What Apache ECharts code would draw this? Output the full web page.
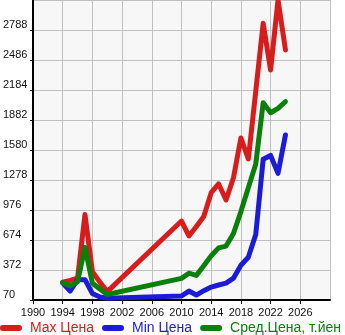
<!DOCTYPE html>
<html>
<head>
<meta charset="utf-8">
<script src="https://cdn.jsdelivr.net/npm/echarts@6/dist/echarts.min.js"></script>
<style>
html,body{margin:0;padding:0;background:#fff;}
#c{width:345px;height:335px;}
</style>
</head>
<body>
<div id="c"></div>
<script>
var years = [1994,1995,1996,1997,1998,1999,2000,2010,2011,2012,2013,2014,2015,2016,2017,2018,2019,2020,2021,2022,2023,2024];
var maxPrice = [250,268,290,930,355,250,154,865,715,810,910,1150,1238,1077,1300,1700,1490,2170,2855,2385,3090,2587];
var minPrice = [240,160,275,275,135,100,87,110,160,120,164,200,221,240,290,420,500,730,1486,1525,1345,1731];
var avgPrice = [245,212,254,600,238,180,125,288,340,318,415,515,595,613,740,960,1200,1440,2055,1955,2000,2066];
var seriesNames = ['Max Цена','Min Цена','Сред.Цена, т.йен'];
var seriesColors = ['#d81c1c','#1c1cd8','#0a800a'];
var yTickMin = 70, yTickStep = 302, yTickMax = 3090;
var xMin = 1990, xMax = 2030, xStep = 4;

function pairs(vals){ return years.map(function(y,i){ return [y, vals[i]]; }); }
var allVals = [maxPrice, minPrice, avgPrice];

var chart = echarts.init(document.getElementById('c'), null, {renderer:'canvas'});
var capsule = 'path://M3,0 L19,0 A3,3 0 0 1 19,6 L3,6 A3,3 0 0 1 3,0 Z';
chart.setOption({
  animation:false,
  backgroundColor:'#ffffff',
  grid:{left:30,right:15,top:0,bottom:35,show:true,backgroundColor:'#f7f7f7',borderWidth:0},
  xAxis:{
    type:'value',min:xMin,max:xMax,interval:xStep,
    axisLine:{show:true,onZero:false,lineStyle:{color:'#000',width:2}},
    axisTick:{show:true,length:4,lineStyle:{color:'#000',width:1}},
    axisLabel:{color:'#111',fontSize:11,fontFamily:'Liberation Sans, Arial, sans-serif',margin:7,showMaxLabel:false,formatter:function(v){return String(v);}},
    splitLine:{show:true,lineStyle:{color:'#c0c0c0',width:1}}
  },
  yAxis:{
    type:'value',min:yTickMin,max:yTickMax,interval:yTickStep,
    axisLine:{show:true,lineStyle:{color:'#000',width:2}},
    axisTick:{show:true,length:3,lineStyle:{color:'#000',width:1}},
    axisLabel:{color:'#111',fontSize:11,fontFamily:'Liberation Sans, Arial, sans-serif',margin:30,align:'left',verticalAlign:'bottom',showMaxLabel:false,formatter:function(v){return String(v);}},
    splitLine:{show:true,lineStyle:{color:'#c0c0c0',width:1}}
  },
  legend:{
    left:0,top:321,padding:0,itemGap:8,itemWidth:22,itemHeight:6,
    textStyle:{fontSize:14,fontFamily:'Liberation Sans, Arial, sans-serif',padding:[0,0,0,3]},
    data:seriesNames.map(function(n,i){return {name:n,icon:capsule,textStyle:{color:seriesColors[i]}};})
  },
  series:seriesNames.map(function(n,i){
    return {name:n,type:'line',data:pairs(allVals[i]),showSymbol:false,symbol:'none',
      lineStyle:{color:seriesColors[i],width:5,cap:'round',join:'round'},
      itemStyle:{color:seriesColors[i]},clip:true};
  })
});
</script>
</body>
</html>
